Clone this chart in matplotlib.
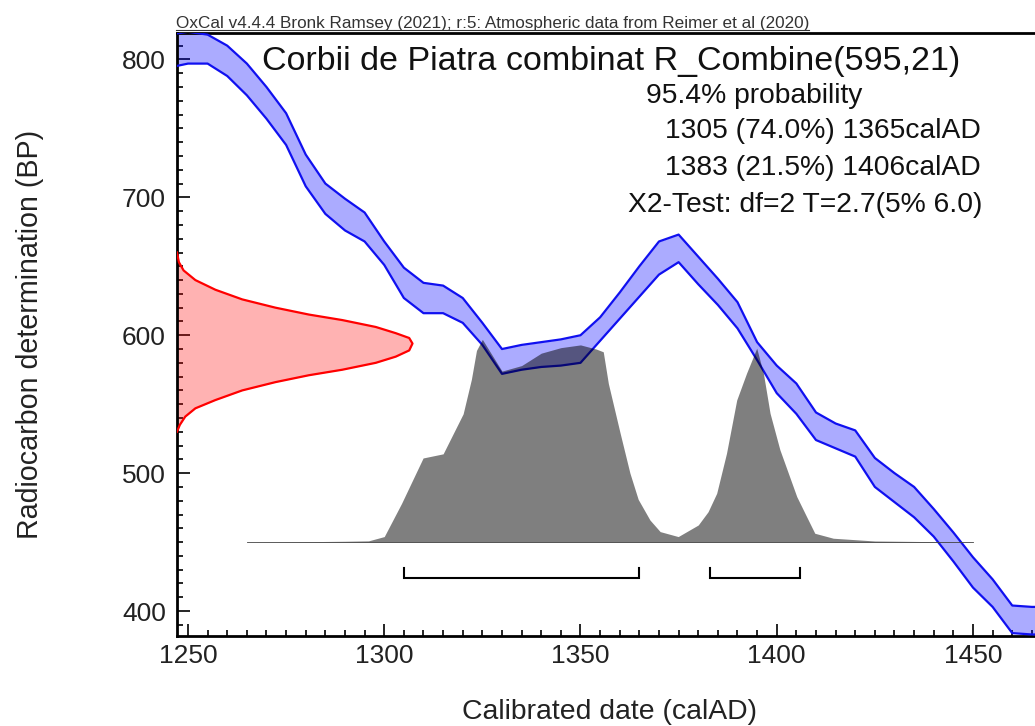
import matplotlib
matplotlib.use("Agg")
import matplotlib.pyplot as plt
from matplotlib.lines import Line2D
from matplotlib.ticker import MultipleLocator

plt.rcParams["font.family"] = ["Liberation Sans", "DejaVu Sans"]

W, H = 1035, 726

# -- Calibration curve (IntCal20 band, upper / lower edge in BP) ------------
cal_yr = [1245, 1250, 1255, 1260, 1265, 1270, 1275, 1280, 1285, 1290, 1295,
          1300, 1305, 1310, 1315, 1320, 1325, 1330, 1335, 1340, 1345, 1350,
          1355, 1360, 1365, 1370, 1375, 1380, 1385, 1390, 1395, 1400, 1405,
          1410, 1415, 1420, 1425, 1430, 1435, 1440, 1445, 1450, 1455, 1460,
          1465, 1470]
cal_hi = [818, 820, 818, 810, 797, 780, 761, 731, 710, 699, 689,
          668, 649, 638, 636, 627, 609, 590, 593, 595, 597, 600,
          613, 631, 650, 668, 673, 657, 641, 624, 595, 578, 565,
          544, 536, 531, 511, 500, 490, 474, 457, 439, 423, 404,
          403, 403]
cal_lo = [794, 797, 797, 788, 774, 757, 738, 708, 688, 676, 668,
          651, 627, 616, 616, 609, 593, 572, 575, 577, 578, 580,
          596, 612, 628, 644, 653, 637, 622, 605, 582, 558, 543,
          524, 518, 512, 490, 479, 468, 454, 436, 417, 403, 384,
          383, 383]

# -- Radiocarbon likelihood R_Combine(595,21), relative density -------------
lik_bp = [530, 535, 541, 547, 553, 560, 566, 571, 575, 580, 584.5, 589,
          594, 598, 601.5, 606, 611, 615, 620, 626, 633, 640, 647, 653, 660]
lik_p = [0.0, 0.012, 0.035, 0.078, 0.163, 0.277, 0.418, 0.56, 0.702, 0.844,
         0.929, 0.986, 1.0, 0.986, 0.929, 0.844, 0.702, 0.56, 0.418, 0.277,
         0.163, 0.078, 0.028, 0.008, 0.0]

# -- Calibrated distribution (relative height) -------------------------------
post_yr = [1265, 1280, 1290, 1296, 1300, 1304.4, 1309.9, 1315, 1320.1, 1322.2,
           1323.5, 1325, 1330, 1335, 1340, 1345, 1350, 1354, 1355.8, 1357.1,
           1360.1, 1362.6, 1364.7, 1367.7, 1370.3, 1374.9, 1380, 1382.5,
           1384.7, 1387.2, 1389.8, 1392.3, 1394.9, 1396.6, 1398.3, 1400.8,
           1405.1, 1407.6, 1409.7, 1414.4, 1425, 1450]
post_p = [0, 0.3, 0.6, 0.9, 4, 28, 61, 64, 93, 118,
          139, 147, 124, 128, 137, 141, 143, 140, 138, 115,
          79, 50, 31, 16, 7.6, 4, 12.4, 22,
          35.4, 64.4, 103, 122.4, 140.6, 122.4, 93.4, 67,
          33, 18.5, 6.4, 2.8, 0.8, 0]

# -- 95.4% ranges -----------------------------------------------------------
ranges = [(1305, 1365), (1383, 1406)]

header = "OxCal v4.4.4 Bronk Ramsey (2021); r:5: Atmospheric data from Reimer et al (2020)"
title = "Corbii de Piatra combinat R_Combine(595,21)"
info = ["95.4% probability", "1305 (74.0%) 1365calAD",
        "1383 (21.5%) 1406calAD", "X2-Test: df=2 T=2.7(5% 6.0)"]

XMIN, XMAX = 1247.2, 1465.8
YMIN, YMAX = 381.9, 819.4
BASE = 450        # baseline of calibrated distribution
LIK_W = 60        # width (years) of likelihood peak
BR_Y, BR_T = 424, 431

fig = plt.figure(figsize=(W / 100, H / 100), dpi=100)
fig.patch.set_facecolor("white")
ax = fig.add_axes([177 / W, 1 - 636 / H, 1 - 177 / W, (636 - 32.7) / H])
ax.set_xlim(XMIN, XMAX)
ax.set_ylim(YMIN, YMAX)

# calibration curve
ax.fill_between(cal_yr, cal_lo, cal_hi, color=(0, 0, 1, 0.33), lw=0, zorder=2)
ax.plot(cal_yr, cal_hi, color="#1010f0", lw=1.6, zorder=3)
ax.plot(cal_yr, cal_lo, color="#1010f0", lw=1.6, zorder=3)

# likelihood
lik_x = [XMIN + p * LIK_W for p in lik_p]
ax.fill_betweenx(lik_bp, XMIN, lik_x, color=(1, 0, 0, 0.3), lw=0, zorder=2)
ax.plot(lik_x, lik_bp, color="red", lw=1.6, zorder=3)

# calibrated distribution
post_top = [BASE + v for v in post_p]
ax.fill_between(post_yr, BASE, post_top, color=(0, 0, 0, 0.5), lw=0, zorder=4)
ax.plot([post_yr[0], post_yr[-1]], [BASE, BASE], color="#444444", lw=0.6, zorder=4)

# range brackets
for a, b in ranges:
    ax.plot([a, a, b, b], [BR_T, BR_Y, BR_Y, BR_T], color="black", lw=1.5,
            solid_joinstyle="miter", zorder=5)

# axes styling
for s in ("left", "bottom", "top"):
    ax.spines[s].set_linewidth(2.0)
ax.spines["right"].set_visible(False)
ax.xaxis.set_major_locator(MultipleLocator(50))
ax.xaxis.set_minor_locator(MultipleLocator(5))
ax.yaxis.set_major_locator(MultipleLocator(100))
ax.yaxis.set_minor_locator(MultipleLocator(10))
ax.tick_params(which="both", direction="in", width=1.2, labelsize=19,
               colors="black", labelcolor="#222222")
ax.tick_params(which="major", length=9, pad=6)
ax.tick_params(which="minor", length=4.5)
ax.tick_params(axis="y", which="major", pad=8)

# texts
fig.text(611.5 / W, 1 - 70 / H, title, ha="center", va="baseline",
         fontsize=24.5, color="#111111")
info_x = [646, 665, 665, 628]
info_y = [103, 138, 175, 211.5]
for t, x, y in zip(info, info_x, info_y):
    fig.text(x / W, 1 - y / H, t, ha="left", va="baseline", fontsize=20.3,
             color="#111111")
fig.text(610 / W, 1 - 712 / H, "Calibrated date (calAD)", ha="center",
         va="center", fontsize=20.4, color="#222222")
fig.text(30 / W, 1 - 334 / H, "Radiocarbon determination (BP)", ha="center",
         va="center", rotation=90, fontsize=20.6, color="#222222")
ht = fig.text(176 / W, 1 - 28 / H, header, ha="left", va="baseline",
              fontsize=12.3, color="#333333")

fig.canvas.draw()
bb = ht.get_window_extent()
fig.add_artist(Line2D([bb.x0 / W, bb.x1 / W], [1 - 30.3 / H, 1 - 30.3 / H],
                      color="#333333", lw=0.8, transform=fig.transFigure))

fig.savefig("out.png", dpi=100, facecolor="white")
